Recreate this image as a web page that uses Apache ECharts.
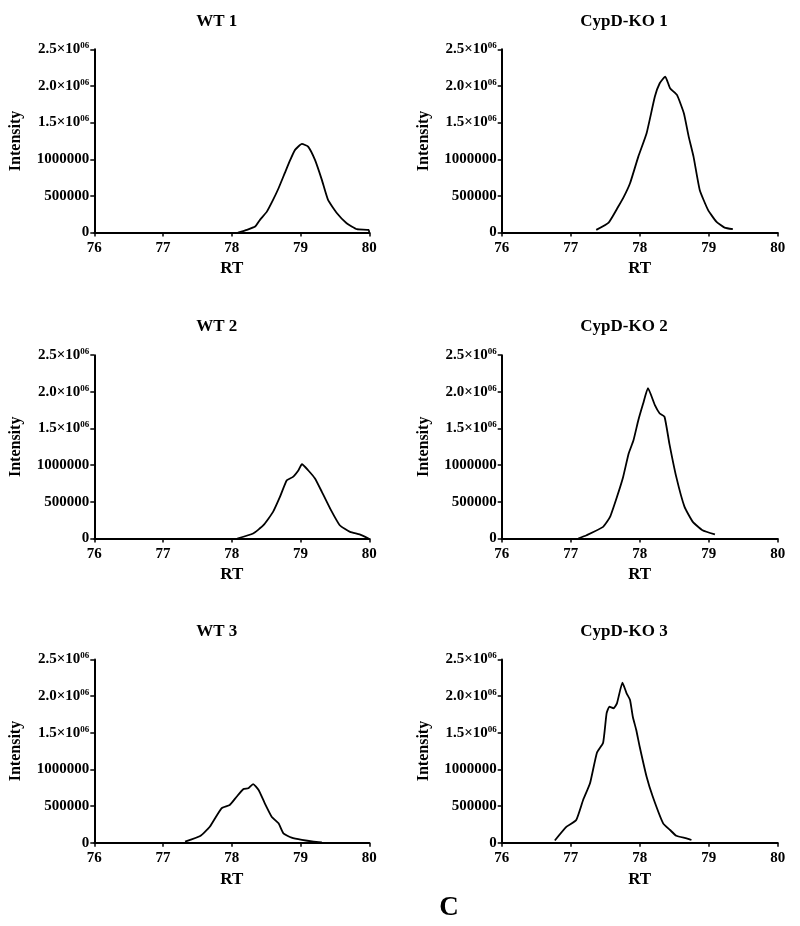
<!DOCTYPE html>
<html>
<head>
<meta charset="utf-8">
<script src="https://cdn.jsdelivr.net/npm/echarts@6/dist/echarts.min.js"></script>
<style>
html,body{margin:0;padding:0;background:#fff;}
#c{width:800px;height:926px;}
</style>
</head>
<body>
<div id="c"></div>
<script>
// ---- data ----
const panelTitles = ['WT 1', 'CypD-KO 1', 'WT 2', 'CypD-KO 2', 'WT 3', 'CypD-KO 3'];
const xTicks = [76, 77, 78, 79, 80];
const yTickLabels = ['0', '500000', '1000000', '1.5×10|06', '2.0×10|06', '2.5×10|06'];
const xAxisTitle = 'RT';
const yAxisTitle = 'Intensity';
const figureLabel = 'C';

const wt1RT  = [78.09, 78.22, 78.34, 78.41, 78.51, 78.60, 78.68, 78.77, 78.85, 78.92, 79.02, 79.11, 79.21, 79.31, 79.40, 79.53, 79.67, 79.82, 79.99, 80.00];
const wt1Int = [0, 37000, 82000, 173000, 286000, 446000, 605000, 810000, 991000, 1128000, 1210000, 1173000, 991000, 719000, 446000, 264000, 128000, 46000, 37000, 0];

const ko1RT  = [77.37, 77.55, 77.69, 77.76, 77.86, 77.98, 78.10, 78.22, 78.29, 78.37, 78.44, 78.54, 78.64, 78.71, 78.78, 78.87, 78.99, 79.11, 79.23, 79.35];
const ko1Int = [37000, 136000, 355000, 469000, 673000, 1036000, 1355000, 1855000, 2037000, 2127000, 1969000, 1878000, 1628000, 1309000, 1036000, 582000, 310000, 150000, 68000, 46000];

const wt2RT  = [78.08, 78.31, 78.46, 78.60, 78.70, 78.80, 78.89, 78.97, 79.02, 79.11, 79.21, 79.31, 79.43, 79.57, 79.72, 79.86, 79.99];
const wt2Int = [0, 68000, 181000, 363000, 567000, 795000, 840000, 931000, 1013000, 931000, 818000, 636000, 409000, 181000, 90000, 55000, 0];

const ko2RT  = [77.11, 77.23, 77.47, 77.57, 77.67, 77.76, 77.84, 77.91, 77.98, 78.05, 78.12, 78.22, 78.29, 78.36, 78.43, 78.53, 78.65, 78.77, 78.91, 79.09];
const ko2Int = [0, 45000, 159000, 295000, 567000, 840000, 1159000, 1340000, 1613000, 1841000, 2050000, 1818000, 1705000, 1659000, 1295000, 840000, 431000, 227000, 113000, 55000];

const wt3RT  = [77.32, 77.54, 77.68, 77.85, 77.97, 78.07, 78.17, 78.24, 78.31, 78.39, 78.48, 78.58, 78.68, 78.75, 78.87, 79.02, 79.19, 79.31];
const wt3Int = [14000, 91000, 218000, 469000, 514000, 627000, 732000, 742000, 800000, 718000, 537000, 355000, 264000, 128000, 68000, 37000, 14000, 5000];

const ko3RT  = [76.77, 76.94, 77.08, 77.18, 77.28, 77.38, 77.47, 77.52, 77.56, 77.62, 77.67, 77.75, 77.81, 77.86, 77.90, 77.95, 78.00, 78.10, 78.19, 78.34, 78.44, 78.53, 78.68, 78.75];
const ko3Int = [30000, 218000, 310000, 582000, 810000, 1227000, 1364000, 1764000, 1855000, 1833000, 1900000, 2182000, 2037000, 1946000, 1718000, 1537000, 1309000, 900000, 627000, 264000, 173000, 95000, 60000, 37000];

const seriesRT  = [wt1RT, ko1RT, wt2RT, ko2RT, wt3RT, ko3RT];
const seriesInt = [wt1Int, ko1Int, wt2Int, ko2Int, wt3Int, ko3Int];

// ---- layout ----
const FONT = '"Liberation Serif", "Times New Roman", serif';
const colLeft = [94.3, 501.7];
const colWidth = [275, 276];
const rowTop = [49.3, 355.2, 659.4];
const plotH = 183.3;
const titleX = [216.7, 624];
const titleY = [22, 327, 632];

const grids = [], xAxes = [], yAxes = [], series = [], graphics = [];
function pairs(xs, ys) { return xs.map((x, i) => [x, ys[i]]); }

for (let i = 0; i < 6; i++) {
  const col = i % 2, row = Math.floor(i / 2);
  grids.push({ left: colLeft[col], top: rowTop[row], width: colWidth[col], height: plotH, containLabel: false });
  xAxes.push({
    type: 'value', gridIndex: i, min: xTicks[0], max: xTicks[xTicks.length - 1], interval: 1,
    name: xAxisTitle, nameLocation: 'middle', nameGap: 28,
    nameTextStyle: { fontFamily: FONT, fontWeight: 'bold', fontSize: 17, color: '#000' },
    axisLine: { show: true, onZero: false, lineStyle: { color: '#000', width: 2 } },
    axisTick: { show: true, length: 4, lineStyle: { color: '#000', width: 1.5 } },
    splitLine: { show: false },
    axisLabel: { margin: 8, fontFamily: FONT, fontWeight: 'bold', fontSize: 15, color: '#000',
      formatter: v => String(v) }
  });
  yAxes.push({
    type: 'value', gridIndex: i, min: 0, max: 2500000, interval: 500000,
    name: yAxisTitle, nameLocation: 'middle', nameRotate: 90, nameGap: 70,
    nameTextStyle: { fontFamily: FONT, fontWeight: 'bold', fontSize: 16, color: '#000' },
    axisLine: { show: true, onZero: false, lineStyle: { color: '#000', width: 2 } },
    axisTick: { show: true, length: 4, lineStyle: { color: '#000', width: 1.5 } },
    splitLine: { show: false },
    axisLabel: {
      margin: 5, fontFamily: FONT, fontWeight: 'bold', fontSize: 15, color: '#000',
      formatter: (v) => {
        const s = yTickLabels[Math.round(v / 500000)];
        if (s.indexOf('|') >= 0) { const p = s.split('|'); return '{a|' + p[0] + '}{s|' + p[1] + '}'; }
        return '{a|' + s + '}';
      },
      rich: {
        a: { fontFamily: FONT, fontWeight: 'bold', fontSize: 15, color: '#000', lineHeight: 16 },
        s: { fontFamily: FONT, fontWeight: 'bold', fontSize: 9, color: '#000', verticalAlign: 'top', lineHeight: 9 }
      }
    }
  });
  series.push({
    type: 'line', xAxisIndex: i, yAxisIndex: i, data: pairs(seriesRT[i], seriesInt[i]),
    showSymbol: false, symbol: 'none', smooth: 0.15, animation: false,
    lineStyle: { color: '#000', width: 1.8 }
  });
  graphics.push({
    type: 'text', x: titleX[col], y: titleY[row],
    style: { text: panelTitles[i], fontFamily: FONT, fontWeight: 'bold', fontSize: 17, fill: '#000',
      textAlign: 'center', textVerticalAlign: 'middle' }
  });
}
graphics.push({
  type: 'text', x: 449, y: 908,
  style: { text: figureLabel, fontFamily: FONT, fontWeight: 'bold', fontSize: 27, fill: '#000',
    textAlign: 'center', textVerticalAlign: 'middle' }
});

const chart = echarts.init(document.getElementById('c'), null, { renderer: 'canvas' });
chart.setOption({
  animation: false,
  backgroundColor: '#fff',
  grid: grids, xAxis: xAxes, yAxis: yAxes, series: series, graphic: graphics
});
</script>
</body>
</html>
